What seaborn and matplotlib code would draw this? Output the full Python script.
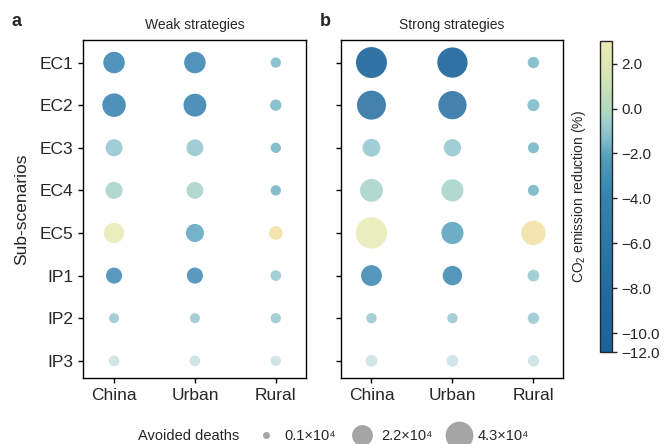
import numpy as np
import pandas as pd
import seaborn as sns
import matplotlib.pyplot as plt
from matplotlib.colors import LinearSegmentedColormap, Normalize
from matplotlib.lines import Line2D

regions = ["China", "Urban", "Rural"]
scenarios = ["EC1", "EC2", "EC3", "EC4", "EC5", "IP1", "IP2", "IP3"]

# avoided deaths (x10^4), rows follow `scenarios`
weak_deaths = {
    "China": [1.83, 2.26, 1.02, 1.02, 1.56, 0.86, 0.10, 0.17],
    "Urban": [1.83, 2.12, 0.97, 0.97, 1.19, 0.86, 0.10, 0.17],
    "Rural": [0.13, 0.24, 0.13, 0.13, 0.53, 0.17, 0.13, 0.13],
}
strong_deaths = {
    "China": [4.20, 3.63, 1.14, 2.12, 4.30, 1.70, 0.13, 0.28],
    "Urban": [4.00, 3.44, 1.07, 1.97, 1.97, 1.43, 0.13, 0.28],
    "Rural": [0.24, 0.31, 0.20, 0.20, 2.49, 0.28, 0.24, 0.24],
}

# CO2 emission reduction (%)
weak_co2 = {
    "China": [-4.5, -4.8, -1.0, -0.4, 2.6, -3.5, -0.9, -0.9],
    "Urban": [-4.5, -4.8, -1.0, -0.4, -2.0, -3.5, -0.9, -0.9],
    "Rural": [-1.5, -1.5, -1.6, -1.6, 3.5, -0.9, -0.9, -0.9],
}
strong_co2 = {
    "China": [-11.5, -8.0, -0.95, -0.4, 2.6, -3.8, -0.9, -0.9],
    "Urban": [-11.5, -8.0, -0.95, -0.4, -2.2, -3.8, -0.9, -0.9],
    "Rural": [-1.5, -1.5, -1.6, -1.6, 3.5, -0.9, -0.9, -0.9],
}

legend_values = [0.1, 2.2, 4.3]
legend_labels = ["0.1×10⁴", "2.2×10⁴", "4.3×10⁴"]

cbar_ticks = [2, 0, -2, -4, -6, -8, -10]
cbar_bottom_label = "−12.0"

vmin, vmax = -10.85, 3.0

sns.set_style("ticks")
plt.rcParams["font.family"] = ["Liberation Sans", "DejaVu Sans"]
plt.rcParams["mathtext.fontset"] = "custom"
plt.rcParams["mathtext.rm"] = "Liberation Sans"
plt.rcParams["mathtext.it"] = "Liberation Sans:italic"


def make_frame(deaths, co2):
    rows = []
    for region in regions:
        for sc, d, c in zip(scenarios, deaths[region], co2[region]):
            rows.append({"region": region, "scenario": sc, "deaths": d, "co2": c})
    return pd.DataFrame(rows)


def make_cmap():
    stops = [(-10.85, "#1a6198"), (-8, "#226c9f"), (-6, "#2b78a8"), (-4, "#3582b0"),
             (-2.5, "#4b98b8"), (-2, "#5aa5bf"), (-1.5, "#78b7c8"), (-1, "#92c4cf"),
             (-0.5, "#a0d0cb"), (0, "#b6d8c0"), (1.5, "#d6e5b4"), (3.0, "#eaedb3")]
    pts = [((v - vmin) / (vmax - vmin), c) for v, c in stops]
    cm = LinearSegmentedColormap.from_list("co2", pts)
    return cm.with_extremes(under="#0d5b94", over="#f2e0a2")


cmap = make_cmap()
norm = Normalize(vmin=vmin, vmax=vmax)
size_range = (52, 507)
size_norm = (0.1, 4.3)


def draw_panel(ax, df, title):
    groups = [(df[df.scenario != "IP3"], 0.85), (df[df.scenario == "IP3"], 0.45)]
    for part, alpha in groups:
        sns.scatterplot(data=part, x="region", y="scenario", size="deaths", hue="co2",
                        sizes=size_range, size_norm=size_norm, palette=cmap,
                        hue_norm=norm, alpha=alpha, linewidth=0, legend=False, ax=ax)
    ax.set_xlim(-0.38, 2.37)
    ax.set_ylim(7.41, -0.53)
    ax.set_xlabel("")
    ax.set_ylabel("")
    ax.set_title(title, fontsize=10, pad=8)
    ax.tick_params(axis="both", labelsize=12.5, length=3.5, width=1, color="black")
    for sp in ax.spines.values():
        sp.set_linewidth(1.0)
        sp.set_color("black")


fig = plt.figure(figsize=(6.65, 4.44), dpi=100)
ax_a = fig.add_axes([0.1253, 0.148, 0.3344, 0.762])
ax_b = fig.add_axes([0.5123, 0.148, 0.3349, 0.762], sharey=ax_a)

draw_panel(ax_a, make_frame(weak_deaths, weak_co2), "Weak strategies")
draw_panel(ax_b, make_frame(strong_deaths, strong_co2), "Strong strategies")
ax_b.tick_params(axis="y", labelleft=False)
ax_a.set_ylabel("Sub-scenarios", fontsize=12.5, labelpad=8)

fig.text(17 / 665, 1 - 21 / 444, "a", fontsize=13, fontweight="bold", ha="center", va="center")
fig.text(325 / 665, 1 - 21 / 444, "b", fontsize=13, fontweight="bold", ha="center", va="center")

# colorbar
cax = fig.add_axes([0.903, 0.207, 0.0173, 0.700])
sm = plt.cm.ScalarMappable(norm=norm, cmap=cmap)
cbar = fig.colorbar(sm, cax=cax)
ticks = cbar_ticks + [vmin]
labels = [f"{t:.1f}".replace("-", "−") for t in cbar_ticks] + [cbar_bottom_label]
cbar.set_ticks(ticks, labels=labels)
cbar.ax.tick_params(labelsize=11, length=3.5, width=1)
cbar.outline.set_linewidth(1.0)
cbar.set_label("CO$_2$ emission reduction (%)", fontsize=10, labelpad=9)
cbar.ax.yaxis.set_label_position("left")

# size legend
handles = [Line2D([], [], linestyle="none", marker=None)]
names = ["Avoided deaths"]
for ms, lab in zip([5.0, 15.0, 20.0], legend_labels):
    handles.append(Line2D([], [], linestyle="none", marker="o", markersize=ms,
                          markerfacecolor="#a5a5a5", markeredgewidth=0))
    names.append(lab)
fig.legend(handles, names, ncol=4, loc="center", bbox_to_anchor=(317 / 665, 1 - 436 / 444),
           frameon=False, fontsize=10.5, handlelength=2, handletextpad=0.3,
           columnspacing=0.8, borderpad=0)

fig.savefig("out.png", dpi=100)
